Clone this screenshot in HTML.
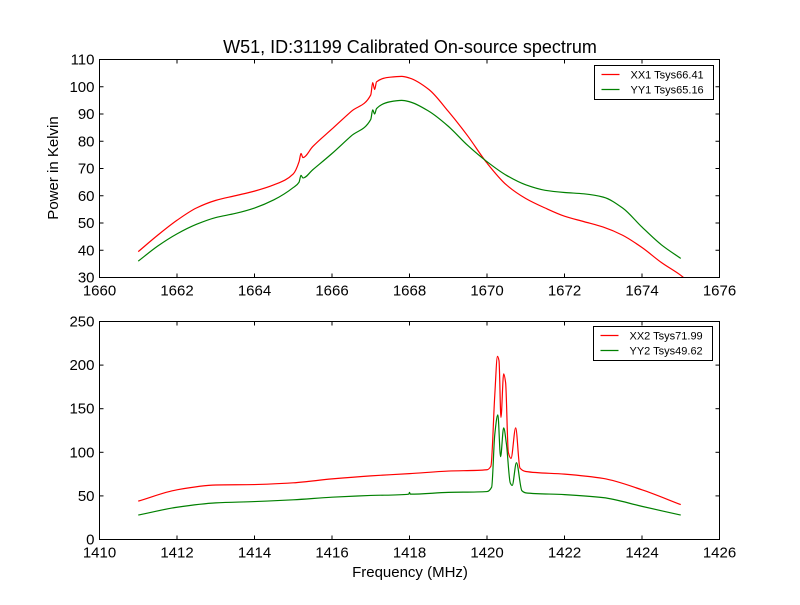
<!DOCTYPE html>
<html><head><meta charset="utf-8"><style>
body{margin:0;background:#fff}
svg text{font-family:"Liberation Sans","DejaVu Sans",sans-serif}
</style></head><body>
<svg id="c" width="800" height="600" xmlns="http://www.w3.org/2000/svg">
<rect width="800" height="600" fill="#fff"/>
</svg>
<script>
// Top panel data (1660 MHz band)
const topXX1Freq = [1661,1661.5,1662,1662.5,1663,1663.5,1664,1664.5,1665,1665.15,1665.2,1665.25,1665.5,1666,1666.5,1667,1667.05,1667.1,1667.15,1667.5,1667.8,1668,1668.5,1669,1669.5,1670,1670.5,1671,1671.5,1672,1672.5,1673,1673.5,1674,1674.5,1675,1675.07];
const topXX1Vals = [39.5,45.5,51,55.5,58.3,60,61.7,64,68,72.5,75.5,74,78,84.5,91,97,101.5,99,101.8,103.5,103.8,103.2,99,91,82,72,64,59,55.5,52.5,50.5,48.5,45.5,41,35.5,30.8,30];
const topYY1Freq = [1661,1661.5,1662,1662.5,1663,1663.5,1664,1664.5,1665,1665.15,1665.2,1665.25,1665.5,1666,1666.5,1667,1667.05,1667.1,1667.15,1667.5,1667.8,1668,1668.5,1669,1669.5,1670,1670.5,1671,1671.5,1672,1672.5,1673,1673.5,1674,1674.5,1675];
const topYY1Vals = [36,41.5,46,49.5,52,53.5,55.5,58.5,63,65,67.5,66.5,69.5,75.5,82,88,91.5,90,92,94.5,95,94.5,91,85.5,78.5,72.5,67.5,64,62,61.2,60.7,59.5,55.5,48.5,42,37];
// Bottom panel data (1420 MHz band)
const botXX2Freq = [1411,1412,1413,1414,1415,1416,1417,1418,1419,1420,1420.1,1420.2,1420.27,1420.31,1420.36,1420.43,1420.48,1420.55,1420.62,1420.74,1420.85,1421,1422,1423,1424,1425];
const botXX2Vals = [44,57,62.5,63,65,69.5,73,75.5,78.5,80,84,165,210,205,140,190,180,100,93,128,82,78,75,70,57,40];
const botYY2Freq = [1411,1412,1413,1414,1415,1416,1417,1417.98,1418,1418.02,1419,1420,1420.12,1420.2,1420.28,1420.35,1420.43,1420.5,1420.6,1420.65,1420.76,1420.9,1421,1422,1423,1424,1425];
const botYY2Vals = [28,37,42,43.5,45.5,48.5,50.5,52,54,52,54,55,60,120,143,95,128,110,65,62,88,56,53.5,51.5,48,38,28];
const topXTicks = [1660,1662,1664,1666,1668,1670,1672,1674,1676];
const topYTicks = [30,40,50,60,70,80,90,100,110];
const botXTicks = [1410,1412,1414,1416,1418,1420,1422,1424,1426];
const botYTicks = [0,50,100,150,200,250];

const svg = document.getElementById('c');
const NS = 'http://www.w3.org/2000/svg';
function mk(tag, attrs, parent){const e=document.createElementNS(NS,tag);for(const k in attrs)e.setAttribute(k,attrs[k]);(parent||svg).appendChild(e);return e;}

// monotone cubic path through pixel points
function monoPath(xs, ys){
  const n=xs.length; const d=[], m=[];
  for(let i=0;i<n-1;i++) d.push((ys[i+1]-ys[i])/(xs[i+1]-xs[i]));
  m[0]=d[0]; m[n-1]=d[n-2];
  for(let i=1;i<n-1;i++){
    if(d[i-1]*d[i]<=0) m[i]=0;
    else { const w1=2*(xs[i+1]-xs[i])+(xs[i]-xs[i-1]), w2=(xs[i+1]-xs[i])+2*(xs[i]-xs[i-1]);
      m[i]=(w1+w2)/(w1/d[i-1]+w2/d[i]); }
  }
  let p='M'+xs[0].toFixed(2)+','+ys[0].toFixed(2);
  for(let i=0;i<n-1;i++){
    const h=(xs[i+1]-xs[i])/3;
    p+=' C'+(xs[i]+h).toFixed(2)+','+(ys[i]+m[i]*h).toFixed(2)+' '+(xs[i+1]-h).toFixed(2)+','+(ys[i+1]-m[i+1]*h).toFixed(2)+' '+xs[i+1].toFixed(2)+','+ys[i+1].toFixed(2);
  }
  return p;
}

function panel(name, box, xr, yr, xt, yt, series, legend){
  const g = mk('g',{});
  
  
  const sx = v => box.x + (v-xr[0])/(xr[1]-xr[0])*box.w;
  const sy = v => box.y + box.h - (v-yr[0])/(yr[1]-yr[0])*box.h;
  const clipId = name+'-clip';
  const cp = mk('clipPath',{id:clipId},g);
  mk('rect',{x:box.x,y:box.y,width:box.w,height:box.h},cp);
  series.forEach(s=>{
    const d = monoPath(s.f.map(sx), s.v.map(sy));
    const pl = mk('path',{d:d,fill:'none',stroke:s.color,'stroke-width':1.2,'stroke-linejoin':'round','clip-path':'url(#'+clipId+')'},g);
    
    
  });
  const fr = mk('rect',{x:box.x,y:box.y,width:box.w,height:box.h,fill:'none',stroke:'#000','stroke-width':1},g);
  
  
  xt.forEach(t=>{
    const x=sx(t);
    mk('line',{x1:x,y1:box.y+box.h,x2:x,y2:box.y+box.h-4,stroke:'#000'},g);
    mk('line',{x1:x,y1:box.y,x2:x,y2:box.y+4,stroke:'#000'},g);
    const tx = mk('text',{x:x,y:box.y+box.h+18,'text-anchor':'middle','font-size':15},g);
    tx.textContent=t;
    
    
  });
  yt.forEach(t=>{
    const y=sy(t);
    mk('line',{x1:box.x,y1:y,x2:box.x+4,y2:y,stroke:'#000'},g);
    mk('line',{x1:box.x+box.w,y1:y,x2:box.x+box.w-4,y2:y,stroke:'#000'},g);
    const tx = mk('text',{x:box.x-5,y:y+5,'text-anchor':'end','font-size':15},g);
    tx.textContent=t;
    
    
  });
  const lg = mk('g',{},g);
  
  
  mk('rect',{x:legend.x,y:legend.y,width:119,height:34,fill:'#fff',stroke:'#000','stroke-width':1},lg);
  series.forEach((s,i)=>{
    const yy = legend.y+9+i*15;
    mk('line',{x1:legend.x+7,y1:yy,x2:legend.x+25,y2:yy,stroke:s.color,'stroke-width':1.2},lg);
    const tx = mk('text',{x:legend.x+36,y:yy+4,'font-size':11},lg);
    tx.textContent = s.label;
    
    
  });
}

panel('top-panel',{x:99.5,y:59.5,w:620,h:218},[1660,1676],[30,110],topXTicks,topYTicks,[
  {f:topXX1Freq,v:topXX1Vals,color:'#ff0000',name:'xx1-line',label:'XX1 Tsys66.41'},
  {f:topYY1Freq,v:topYY1Vals,color:'#008000',name:'yy1-line',label:'YY1 Tsys65.16'}],{x:594.5,y:65.5});
panel('bottom-panel',{x:99.5,y:321.5,w:620,h:218},[1410,1426],[0,250],botXTicks,botYTicks,[
  {f:botXX2Freq,v:botXX2Vals,color:'#ff0000',name:'xx2-line',label:'XX2 Tsys71.99'},
  {f:botYY2Freq,v:botYY2Vals,color:'#008000',name:'yy2-line',label:'YY2 Tsys49.62'}],{x:593.5,y:326.5});

let t = mk('text',{x:410,y:53,'text-anchor':'middle','font-size':18});
t.textContent='W51, ID:31199 Calibrated On-source spectrum';


t = mk('text',{x:0,y:0,'text-anchor':'middle','font-size':15,transform:'translate(58,168) rotate(-90)'});
t.textContent='Power in Kelvin';


t = mk('text',{x:410,y:577,'text-anchor':'middle','font-size':15});
t.textContent='Frequency (MHz)';


</script>
</body></html>
